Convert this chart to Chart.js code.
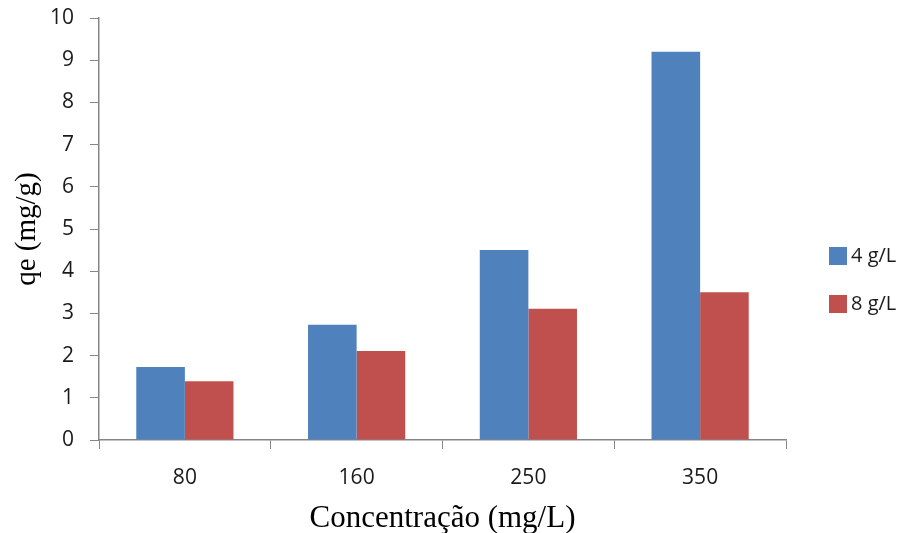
<!DOCTYPE html>
<html>
<head>
<meta charset="utf-8">
<script src="https://cdn.jsdelivr.net/npm/chart.js@4"></script>
<style>
  html, body { margin: 0; padding: 0; background: #fff; }
  #wrap { width: 905px; height: 533px; }
</style>
</head>
<body>
<div id="wrap"><canvas id="graficoQe" width="905" height="533"></canvas></div>
<script>
const categorias = ['80', '160', '250', '350'];
const serie4gL = [1.73, 2.73, 4.50, 9.20];
const serie8gL = [1.39, 2.11, 3.11, 3.50];
const nomesSeries = ['4 g/L', '8 g/L'];
const coresSeries = ['#4F81BD', '#C0504D'];

// legenda desenhada à direita, como no gráfico do Excel
const legendaDireita = {
  id: 'legendaDireita',
  afterDraw(chart) {
    const c = chart.ctx;
    c.save();
    c.font = '20px "Open Sans"';
    c.textBaseline = 'middle';
    chart.data.datasets.forEach((ds, i) => {
      const y = 256 + i * 48;
      c.fillStyle = ds.backgroundColor;
      c.fillRect(829, y - 9, 18, 18);
      c.fillStyle = '#1a1a1a';
      c.fillText(ds.label, 851, y);
    });
    c.restore();
  }
};

const ctx = document.getElementById('graficoQe').getContext('2d');

const graficoQe = new Chart(ctx, {
  type: 'bar',
  data: {
    labels: categorias,
    datasets: [{
      label: nomesSeries[0],
      data: serie4gL,
      backgroundColor: coresSeries[0]
    }, {
      label: nomesSeries[1],
      data: serie8gL,
      backgroundColor: coresSeries[1]
    }]
  },
  options: {
    responsive: false,
    animation: false,
    layout: {
      padding: { top: 18, right: 119, left: 0, bottom: 0 }
    },
    datasets: {
      bar: {
        categoryPercentage: 0.566,
        barPercentage: 1
      }
    },
    plugins: {
      legend: { display: false },
      tooltip: { enabled: false }
    },
    scales: {
      y: {
        min: 0,
        max: 10,
        ticks: {
          stepSize: 1,
          color: '#1a1a1a',
          padding: 16,
          font: { family: 'Open Sans', size: 21 }
        },
        grid: {
          drawOnChartArea: false,
          color: '#868686',
          tickLength: 9
        },
        border: { color: '#868686', width: 1.5 },
        title: {
          display: true,
          text: 'qe (mg/g)',
          color: '#000',
          font: { family: 'Liberation Serif', size: 29 },
          padding: { top: 10, bottom: 0 }
        },
        afterFit(scale) {
          scale.width = 99;
          scale.paddingTop = 0;
          scale.paddingBottom = 0;
        }
      },
      x: {
        ticks: {
          color: '#1a1a1a',
          padding: 16,
          font: { family: 'Open Sans', size: 21 }
        },
        grid: {
          offset: true,
          drawOnChartArea: false,
          color: '#868686',
          tickLength: 9
        },
        border: { color: '#868686', width: 1.5 },
        title: {
          display: true,
          text: 'Concentração (mg/L)',
          color: '#000',
          font: { family: 'Liberation Serif', size: 31 },
          padding: { top: 4, bottom: -4 }
        },
        afterFit(scale) { scale.height = 93; }
      }
    }
  },
  plugins: [legendaDireita]
});
</script>
</body>
</html>
